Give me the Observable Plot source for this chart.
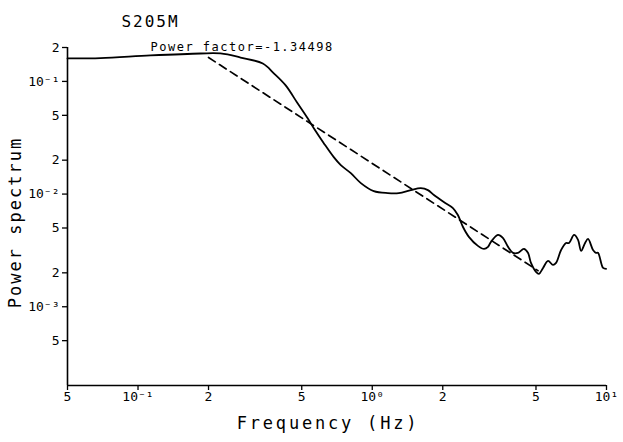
<!DOCTYPE html>
<html>
<head>
<meta charset="utf-8">
<script src="https://cdn.jsdelivr.net/npm/d3@7"></script>
<script src="https://cdn.jsdelivr.net/npm/@observablehq/plot@0.6"></script>
<style>
  html, body { margin: 0; padding: 0; background: #fff; }
</style>
</head>
<body>
<div id="chart"></div>
<script>
// Spectrum (solid curve)
const freq = [0.05, 0.0692, 0.113, 0.185, 0.225, 0.274, 0.341, 0.380, 0.427, 0.480, 0.530, 0.563, 0.621, 0.685, 0.734, 0.810, 0.894, 1.015, 1.166, 1.298, 1.461, 1.612, 1.728, 1.833, 2.02, 2.21, 2.32, 2.44, 2.585, 2.825, 3.00, 3.12, 3.21, 3.44, 3.61, 3.80, 3.99, 4.19, 4.44, 4.62, 4.76, 5.0, 5.15, 5.36, 5.63, 5.91, 6.09, 6.40, 6.72, 6.92, 7.27, 7.56, 7.79, 8.10, 8.34, 8.76, 9.02, 9.2, 9.67, 9.96];
const power = [0.160, 0.161, 0.170, 0.177, 0.177, 0.163, 0.144, 0.118, 0.0922, 0.0639, 0.0471, 0.0384, 0.0283, 0.02126, 0.01806, 0.01534, 0.01252, 0.01063, 0.01021, 0.01021, 0.01085, 0.0113, 0.01085, 0.0098, 0.0085, 0.00752, 0.00652, 0.0051, 0.00417, 0.00347, 0.00326, 0.0034, 0.00376, 0.00434, 0.00408, 0.0034, 0.00301, 0.00301, 0.00326, 0.00301, 0.00245, 0.00204, 0.00196, 0.00221, 0.00255, 0.00235, 0.00245, 0.00319, 0.00368, 0.00368, 0.00434, 0.00392, 0.00313, 0.00368, 0.0040, 0.00319, 0.00301, 0.00301, 0.00221, 0.00217];

// Power-law fit (dashed line), endpoints
const fitFreq = [0.2, 5.1];
const fitPower = [0.163, 0.00209];

// Tick values and labels
const xTicks = [0.05, 0.1, 0.2, 0.5, 1, 2, 5, 10];
const xTickLabels = ["5", "10⁻¹", "2", "5", "10⁰", "2", "5", "10¹"];
const yTicks = [0.2, 0.1, 0.05, 0.02, 0.01, 0.005, 0.002, 0.001, 0.0005];
const yTickLabels = ["2", "10⁻¹", "5", "2", "10⁻²", "5", "2", "10⁻³", "5"];

const title = "S205M";
const annotation = "Power factor=-1.34498";
const xLabel = "Frequency (Hz)";
const yLabel = "Power spectrum";

const font = "'DejaVu Sans Mono', monospace";

const chart = Plot.plot({
  width: 623,
  height: 442,
  marginLeft: 67,
  marginRight: 17,
  marginTop: 47,
  marginBottom: 57,
  style: { fontFamily: font, background: "#fff", color: "#000" },
  x: { type: "log", domain: [0.05, 10] },
  y: { type: "log", domain: [2e-4, 0.2] },
  marks: [
    Plot.axisX(xTicks, { tickFormat: () => "", tickSize: 5, label: null, strokeWidth: 1.3 }),
    Plot.axisY(yTicks, { tickFormat: () => "", tickSize: 5, label: null, strokeWidth: 1.3 }),
    Plot.text(xTicks, { x: d => d, text: (d, i) => xTickLabels[i], frameAnchor: "bottom", dy: 15, fontSize: 13, fill: "#000" }),
    Plot.text(yTicks, { y: d => d, text: (d, i) => yTickLabels[i], frameAnchor: "left", dx: -8, textAnchor: "end", fontSize: 13, fill: "#000" }),
    Plot.ruleX([0.05], { stroke: "#000", strokeWidth: 1.6 }),
    Plot.ruleY([2e-4], { stroke: "#000", strokeWidth: 1.6 }),
    Plot.line(fitFreq, { x: d => d, y: (d, i) => fitPower[i], stroke: "#000", strokeWidth: 1.7, strokeDasharray: "8,5" }),
    Plot.line(freq, { x: d => d, y: (d, i) => power[i], stroke: "#000", strokeWidth: 1.8, curve: "catmull-rom" }),
    Plot.text([annotation], { frameAnchor: "top-left", dx: 83, dy: -5, textAnchor: "start", fontSize: 12, fill: "#000" }),
    Plot.text([title], { frameAnchor: "top-left", dx: 83, dy: -32, textAnchor: "middle", fontSize: 16, fill: "#000" }),
    Plot.text([xLabel], { frameAnchor: "bottom", dx: -9, dy: 43, textAnchor: "middle", fontSize: 17, fill: "#000" }),
    Plot.text([yLabel], { frameAnchor: "left", dx: -52, dy: 6, rotate: -90, textAnchor: "middle", fontSize: 17, fill: "#000" })
  ]
});

// widen the plotter-like lettering
d3.select(chart).selectAll("text").each(function () {
  const t = this.textContent;
  if (t === title) this.setAttribute("letter-spacing", "2");
  if (t === annotation) this.setAttribute("letter-spacing", "1.5");
  if (t === xLabel) this.setAttribute("letter-spacing", "2.8");
  if (t === yLabel) this.setAttribute("letter-spacing", "2");
});

document.getElementById("chart").appendChild(chart);
</script>
</body>
</html>
